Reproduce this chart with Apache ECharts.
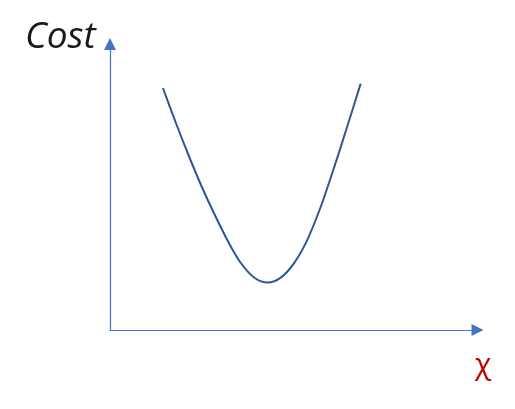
<!DOCTYPE html>
<html>
<head>
<meta charset="utf-8">
<script src="https://cdn.jsdelivr.net/npm/echarts@6/dist/echarts.min.js"></script>
<style>
  html, body { margin: 0; padding: 0; background: #fff; }
  #main { width: 515px; height: 409px; }
</style>
</head>
<body>
<div id="main"></div>
<script>
// curve (x along the axis, cost upward)
var curveX = [53, 66, 79, 92, 105, 118, 131, 145, 158, 171, 184, 197, 210, 223, 237, 251];
var curveY = [242, 207, 174, 143, 115, 89, 67, 52, 47.5, 52.4, 66.4, 88.9, 120.5, 158.2, 201.7, 246.4];

var xMax = 368;
var yMax = 286;

var points = [];
curveX.forEach(function (x, i) {
    points.push([x, curveY[i]]);
});

var chart = echarts.init(document.getElementById('main'));
var option = {
    animation: false,
    grid: {
        left: 110,
        top: 44,
        width: 367.5,
        height: 286
    },
    xAxis: {
        type: 'value',
        min: 0,
        max: xMax,
        axisLine: {
            show: true,
            symbol: ['none', 'triangle'],
            symbolSize: [12, 12],
            lineStyle: { color: '#4472C4', width: 1.2 }
        },
        axisTick: { show: false },
        axisLabel: { show: false },
        splitLine: { show: false }
    },
    yAxis: {
        type: 'value',
        min: 0,
        max: yMax,
        axisLine: {
            show: true,
            symbol: ['none', 'triangle'],
            symbolSize: [12, 12],
            lineStyle: { color: '#4472C4', width: 1.2 }
        },
        axisTick: { show: false },
        axisLabel: { show: false },
        splitLine: { show: false }
    },
    graphic: [
        {
            type: 'text',
            left: 25,
            top: 19,
            style: {
                text: 'Cost',
                font: 'italic 37px "Open Sans"',
                fill: '#1a1a1a'
            }
        },
        {
            type: 'text',
            left: 475,
            top: 350,
            style: {
                text: 'χ',
                font: '30px "Open Sans"',
                fill: '#C00000'
            }
        }
    ],
    series: [
        {
            type: 'line',
            data: points,
            smooth: 0.3,
            showSymbol: false,
            lineStyle: { color: '#2F5597', width: 2 }
        }
    ]
};
chart.setOption(option);
</script>
</body>
</html>
